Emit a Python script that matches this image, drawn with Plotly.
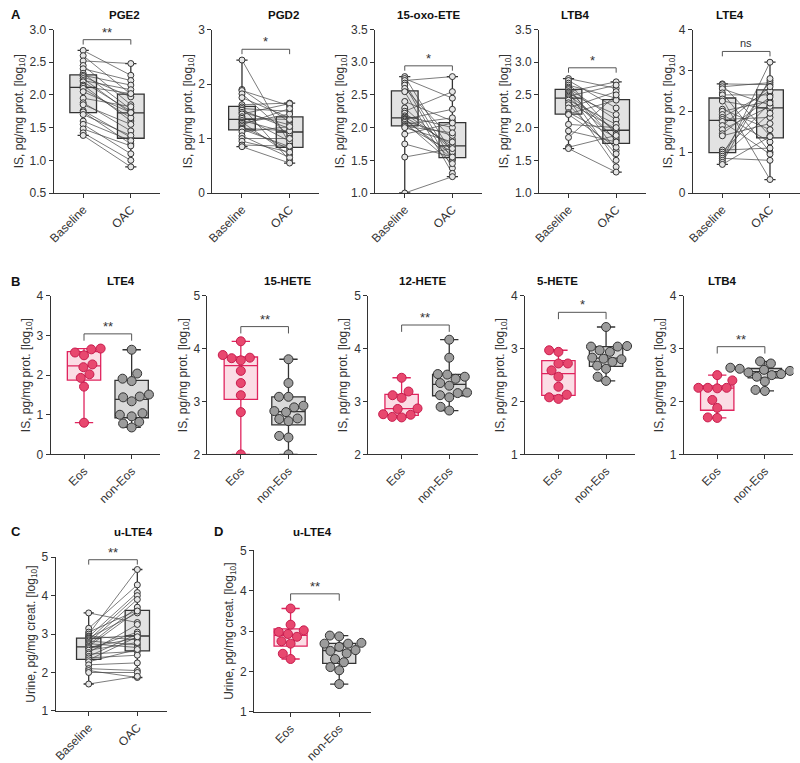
import numpy as np
import plotly.graph_objects as go

# ---------------- DATA ----------------
# Panel A (paired, Baseline vs OAC)
pge2_base = [2.68, 2.60, 2.52, 2.45, 2.40, 2.33, 2.30, 2.28, 2.25, 2.22, 2.20, 2.15, 2.13, 2.10, 2.05, 1.95, 1.88, 1.85, 1.76, 1.74, 1.70, 1.60, 1.55, 1.48, 1.42, 1.38]
pge2_oac = [2.30, 2.01, 2.48, 1.85, 2.22, 1.78, 2.15, 1.97, 1.72, 2.08, 1.75, 1.60, 2.02, 1.65, 1.73, 1.82, 1.45, 1.55, 1.35, 1.25, 1.38, 1.30, 1.10, 1.22, 1.00, 0.90]

pgd2_base = [2.44, 1.90, 1.88, 1.82, 1.75, 1.62, 1.58, 1.55, 1.52, 1.48, 1.45, 1.40, 1.37, 1.33, 1.30, 1.28, 1.25, 1.22, 1.19, 1.17, 1.12, 1.05, 1.00, 0.95, 0.88, 0.85]
pgd2_oac = [0.90, 1.30, 1.60, 1.05, 1.38, 1.65, 0.60, 1.50, 1.18, 1.25, 1.64, 0.95, 1.35, 1.10, 0.70, 1.45, 1.55, 0.80, 1.14, 0.85, 1.22, 0.65, 1.00, 0.75, 0.86, 0.55]

oxoete_base = [2.78, 2.75, 2.72, 2.68, 2.65, 2.60, 2.55, 2.40, 2.30, 2.25, 2.22, 2.18, 2.16, 2.14, 2.13, 2.12, 2.10, 2.08, 2.05, 2.03, 2.02, 2.00, 1.90, 1.75, 1.55, 1.00]
oxoete_oac = [1.60, 2.45, 2.78, 1.50, 1.38, 1.82, 1.30, 2.10, 1.65, 2.55, 1.70, 2.00, 1.74, 1.52, 2.28, 1.58, 1.88, 1.45, 2.15, 1.63, 1.92, 1.78, 2.07, 1.55, 1.68, 1.25]

ltb4_base = [2.75, 2.72, 2.68, 2.65, 2.62, 2.60, 2.58, 2.55, 2.54, 2.52, 2.50, 2.48, 2.46, 2.44, 2.42, 2.38, 2.35, 2.30, 2.23, 2.21, 2.20, 2.05, 1.95, 1.85, 1.70, 1.68]
ltb4_oac = [2.60, 2.30, 1.90, 2.45, 1.65, 2.12, 1.80, 2.70, 1.50, 2.20, 1.94, 2.65, 1.82, 1.40, 2.05, 1.98, 1.60, 2.55, 1.85, 2.42, 1.70, 2.00, 1.78, 2.50, 1.88, 1.32]

lte4_base = [2.67, 2.65, 2.60, 2.55, 2.45, 2.40, 2.30, 2.25, 2.05, 2.00, 1.92, 1.85, 1.80, 1.75, 1.65, 1.55, 1.45, 1.40, 1.05, 1.00, 0.95, 0.90, 0.85, 0.80, 0.75, 0.70]
lte4_oac = [2.65, 1.40, 2.70, 2.15, 1.00, 2.40, 0.33, 2.05, 1.55, 2.25, 1.25, 2.50, 1.85, 0.95, 2.60, 2.12, 2.35, 1.70, 1.10, 2.20, 2.75, 1.95, 0.80, 3.20, 2.80, 1.38]

# Panel B (Eos vs non-Eos)
b_lte4_eos = [0.80, 1.71, 1.93, 2.02, 2.20, 2.27, 2.50, 2.57, 2.65, 2.67]
b_lte4_non = [0.68, 0.78, 0.82, 0.96, 1.00, 1.04, 1.34, 1.44, 1.46, 1.51, 1.85, 1.91, 2.04, 2.64]
hete15_eos = [2.00, 2.80, 3.12, 3.35, 3.58, 3.78, 3.82, 3.83, 3.88, 4.14]
hete15_non = [2.00, 2.32, 2.35, 2.63, 2.67, 2.68, 2.80, 2.82, 2.89, 2.92, 3.09, 3.09, 3.35, 3.80]
hete12_eos = [2.70, 2.71, 2.75, 2.76, 2.86, 2.87, 3.07, 3.12, 3.19, 3.45]
hete12_non = [2.83, 2.90, 3.08, 3.12, 3.16, 3.17, 3.30, 3.35, 3.43, 3.47, 3.51, 3.52, 3.83, 4.17]
hete5_eos = [2.05, 2.08, 2.13, 2.28, 2.47, 2.59, 2.72, 2.72, 2.94, 2.97]
hete5_non = [2.39, 2.47, 2.62, 2.68, 2.75, 2.80, 2.81, 2.83, 2.94, 2.97, 3.04, 3.04, 3.05, 3.41]
b_ltb4_eos = [1.69, 1.70, 1.88, 2.03, 2.25, 2.26, 2.26, 2.26, 2.40, 2.50]
b_ltb4_non = [2.20, 2.22, 2.38, 2.47, 2.50, 2.52, 2.55, 2.58, 2.60, 2.62, 2.62, 2.64, 2.72, 2.76]

# Panel C (paired urine)
ulte4_base = [3.55, 3.15, 3.05, 3.00, 2.95, 2.93, 2.90, 2.88, 2.85, 2.82, 2.78, 2.75, 2.72, 2.68, 2.65, 2.62, 2.58, 2.52, 2.48, 2.42, 2.38, 2.33, 2.28, 2.20, 2.10, 2.05, 2.00, 1.70]
ulte4_oac = [3.30, 4.28, 3.62, 4.68, 2.85, 4.08, 3.55, 2.97, 4.00, 2.72, 3.90, 2.65, 3.70, 3.60, 2.90, 3.05, 2.78, 3.25, 2.55, 3.00, 2.45, 2.93, 2.60, 2.25, 2.05, 1.87, 2.00, 1.90]

# Panel D (urine Eos vs non-Eos)
d_ulte4_eos = [2.31, 2.44, 2.69, 2.75, 2.86, 2.93, 2.98, 3.02, 3.16, 3.56]
d_ulte4_non = [1.69, 2.03, 2.11, 2.23, 2.31, 2.45, 2.51, 2.53, 2.61, 2.69, 2.69, 2.71, 2.87, 2.89]

paired_labels = ["Baseline", "OAC"]
group_labels = ["Eos", "non-Eos"]

titles_A = ["PGE2", "PGD2", "15-oxo-ETE", "LTB4", "LTE4"]
titles_B = ["LTE4", "15-HETE", "12-HETE", "5-HETE", "LTB4"]
sig_A = ["**", "*", "*", "*", "ns"]
sig_B = ["**", "**", "**", "*", "**"]

ylab_IS = "IS, pg/mg prot. [log<sub>10</sub>]"
ylab_U = "Urine, pg/mg creat. [log<sub>10</sub>]"

# ---------------- STYLE ----------------
W, H = 800, 763
FONT = "Arial, Liberation Sans, sans-serif"
DARK = "#333333"
A_BOX_FILL = "#e2e2e2"
A_PT_FILL = "#e6e6e6"
EOS_LINE = "#e0245e"
EOS_FILL = "#fbdde5"
EOS_PT = "#e8486f"
EOS_PT_LINE = "#c81d4e"
NE_FILL = "#dadada"
NE_PT = "#9c9c9c"

fig = go.Figure()
layout = dict(width=W, height=H, margin=dict(l=0, r=0, t=0, b=0),
              paper_bgcolor="white", plot_bgcolor="white",
              font=dict(family=FONT, color=DARK, size=12),
              showlegend=False, boxmode="overlay")
shapes, annotations = [], []

panels = []
A_sets = [(pge2_base, pge2_oac, [0.5, 3.0], 0.5, ".1f"),
          (pgd2_base, pgd2_oac, [0, 3], 1, "d"),
          (oxoete_base, oxoete_oac, [1.0, 3.5], 0.5, ".1f"),
          (ltb4_base, ltb4_oac, [1.0, 3.5], 0.5, ".1f"),
          (lte4_base, lte4_oac, [0, 4], 1, "d")]
A_x0 = [48, 208, 372, 537, 692]
for i, (b, o, yr, dt, fmt) in enumerate(A_sets):
    panels.append(dict(kind="paired", a=b, b=o, yr=yr, dt=dt, fmt=fmt, x0=A_x0[i], xr=[-0.62, 1.62],
                       pxu=48, top=23, bot=190, title=titles_A[i], sig=sig_A[i], labels=paired_labels,
                       ylab=ylab_IS, boxw=0.56, ww=0.42, gap=11, drop=5, ty=8,
                       letter="A" if i == 0 else None))
B_sets = [(b_lte4_eos, b_lte4_non, [0, 4]), (hete15_eos, hete15_non, [2, 5]),
          (hete12_eos, hete12_non, [2, 5]), (hete5_eos, hete5_non, [1, 4]),
          (b_ltb4_eos, b_ltb4_non, [1, 4])]
B_x0 = [45, 203, 365, 523, 683]
for i, (e, n, yr) in enumerate(B_sets):
    panels.append(dict(kind="group", a=e, b=n, yr=yr, dt=1, fmt="d", x0=B_x0[i], xr=[-0.7, 1.6],
                       pxu=48, top=295, bot=457, title=titles_B[i], sig=sig_B[i], labels=group_labels,
                       ylab=ylab_IS, boxw=0.7, ww=0.55, gap=15, drop=7, ty=280,
                       letter="B" if i == 0 else None))
panels.append(dict(kind="paired", a=ulte4_base, b=ulte4_oac, yr=[1, 5], dt=1, fmt="d", x0=50, xr=[-0.68, 1.62],
                   pxu=49, top=562, bot=719, title="u-LTE4", sig="**", labels=paired_labels,
                   ylab=ylab_U, boxw=0.5, ww=0.42, gap=10, drop=5, ty=536, letter="C"))
panels.append(dict(kind="group", a=d_ulte4_eos, b=d_ulte4_non, yr=[1, 5], dt=1, fmt="d", x0=250, xr=[-0.75, 1.65],
                   pxu=49, top=555, bot=720, title="u-LTE4", sig="**", labels=group_labels,
                   ylab=ylab_U, boxw=0.68, ww=0.55, gap=15, drop=7, ty=536, letter="D"))


def swarm(vals, py_unit, diam):
    vals = np.asarray(vals, float)
    order = np.argsort(vals, kind="stable")
    placed = []
    off = np.zeros(len(vals))
    for idx in order:
        y = vals[idx] * py_unit
        cands = [0.0]
        for xp, yp in placed:
            dy = y - yp
            if abs(dy) < diam:
                dx = np.sqrt(diam * diam - dy * dy)
                cands += [xp + dx, xp - dx]
        cands.sort(key=lambda c: (round(abs(c), 6), c))
        for c in cands:
            if all((c - xp) ** 2 + (y - yp) ** 2 >= diam * diam - 1e-6 for xp, yp in placed):
                break
        off[idx] = c
        placed.append((c, y))
    return off


def add_box(vals, pos, xa, ya, fill, line, width, ww):
    v = np.asarray(vals, float)
    q1, med, q3 = np.percentile(v, [25, 50, 75], method="weibull")
    fig.add_trace(go.Box(x=[pos], q1=[q1], median=[med], q3=[q3], lowerfence=[v.min()], upperfence=[v.max()],
                         orientation="v", width=width, whiskerwidth=ww, fillcolor=fill,
                         line=dict(color=line, width=1.3), boxpoints=False, xaxis=xa, yaxis=ya,
                         hoverinfo="skip"))


for k, p in enumerate(panels, start=1):
    xa, ya = ("x" if k == 1 else f"x{k}"), ("y" if k == 1 else f"y{k}")
    xkey, ykey = ("xaxis" if k == 1 else f"xaxis{k}"), ("yaxis" if k == 1 else f"yaxis{k}")
    width_px = (p["xr"][1] - p["xr"][0]) * p["pxu"]
    xd = [p["x0"] / W, (p["x0"] + width_px) / W]
    yd = [1 - p["bot"] / H, 1 - p["top"] / H]
    py_unit = (p["bot"] - p["top"]) / (p["yr"][1] - p["yr"][0])
    ticks = list(np.arange(p["yr"][0], p["yr"][1] + 1e-9, p["dt"]))
    layout[xkey] = dict(domain=xd, range=p["xr"], anchor=ya, tickvals=[0, 1], ticktext=p["labels"],
                        tickangle=-45, ticks="outside", ticklen=4, tickcolor=DARK, showline=True,
                        linecolor=DARK, linewidth=1, showgrid=False, zeroline=False,
                        tickfont=dict(size=12, color=DARK, family=FONT), fixedrange=True)
    layout[ykey] = dict(domain=yd, range=p["yr"], anchor=xa, tickvals=ticks,
                        tickformat=(".1f" if p["fmt"] == ".1f" else "d"),
                        ticks="outside", ticklen=4, tickcolor=DARK, showline=True, linecolor=DARK,
                        linewidth=1, showgrid=False, zeroline=False,
                        tickfont=dict(size=12, color=DARK, family=FONT),
                        title=dict(text=p["ylab"], font=dict(size=12, color=DARK, family=FONT), standoff=3),
                        fixedrange=True)

    a = np.asarray(p["a"], float)
    b = np.asarray(p["b"], float)
    if p["kind"] == "paired":
        add_box(a, 0, xa, ya, A_BOX_FILL, DARK, p["boxw"], p["ww"])
        add_box(b, 1, xa, ya, A_BOX_FILL, DARK, p["boxw"], p["ww"])
        lx, ly = [], []
        for va, vb in zip(a, b):
            lx += [0, 1, None]
            ly += [va, vb, None]
        fig.add_trace(go.Scatter(x=lx, y=ly, mode="lines", line=dict(color="#444444", width=0.7),
                                 xaxis=xa, yaxis=ya, hoverinfo="skip"))
        fig.add_trace(go.Scatter(x=[0] * len(a) + [1] * len(b), y=list(a) + list(b), mode="markers",
                                 marker=dict(size=6, color=A_PT_FILL, line=dict(color=DARK, width=1)),
                                 xaxis=xa, yaxis=ya, hoverinfo="skip"))
    else:
        add_box(a, 0, xa, ya, EOS_FILL, EOS_LINE, p["boxw"], p["ww"])
        add_box(b, 1, xa, ya, NE_FILL, DARK, p["boxw"], p["ww"])
        diam = 9.5
        oa = swarm(a, py_unit, diam) / p["pxu"]
        ob = swarm(b, py_unit, diam) / p["pxu"]
        fig.add_trace(go.Scatter(x=list(0 + oa), y=list(a), mode="markers",
                                 marker=dict(size=9, color=EOS_PT, line=dict(color=EOS_PT_LINE, width=1)),
                                 xaxis=xa, yaxis=ya, hoverinfo="skip"))
        fig.add_trace(go.Scatter(x=list(1 + ob), y=list(b), mode="markers",
                                 marker=dict(size=9, color=NE_PT, line=dict(color=DARK, width=1)),
                                 xaxis=xa, yaxis=ya, hoverinfo="skip"))

    # significance bracket
    top_val = max(a.max(), b.max())
    yb = top_val + p["gap"] / py_unit
    yd_ = yb - p["drop"] / py_unit
    shapes.append(dict(type="path", path=f"M 0,{yd_} L 0,{yb} L 1,{yb} L 1,{yd_}",
                       xref=xa, yref=ya, line=dict(color="#555555", width=1)))
    annotations.append(dict(x=0.5, y=yb, xref=xa, yref=ya, text=p["sig"], showarrow=False,
                            yanchor="bottom", yshift=0 if p["sig"] == "ns" else -2,
                            font=dict(size=11 if p["sig"] == "ns" else 13, color=DARK, family=FONT)))
    # panel title
    annotations.append(dict(x=(xd[0] + xd[1]) / 2, y=1 - p["ty"] / H, xref="paper", yref="paper",
                            text=f"<b>{p['title']}</b>", showarrow=False, yanchor="middle",
                            font=dict(size=11.5, color="#111111", family=FONT)))
    if p["letter"]:
        lx_px = 3 if p["letter"] != "D" else 208
        annotations.append(dict(x=lx_px / W, y=1 - p["ty"] / H, xref="paper", yref="paper",
                                text=f"<b>{p['letter']}</b>", showarrow=False, xanchor="left",
                                yanchor="middle", font=dict(size=13, color="#111111", family=FONT)))

layout["shapes"] = shapes
layout["annotations"] = annotations
fig.update_layout(**layout)
fig.write_html("out.html")
